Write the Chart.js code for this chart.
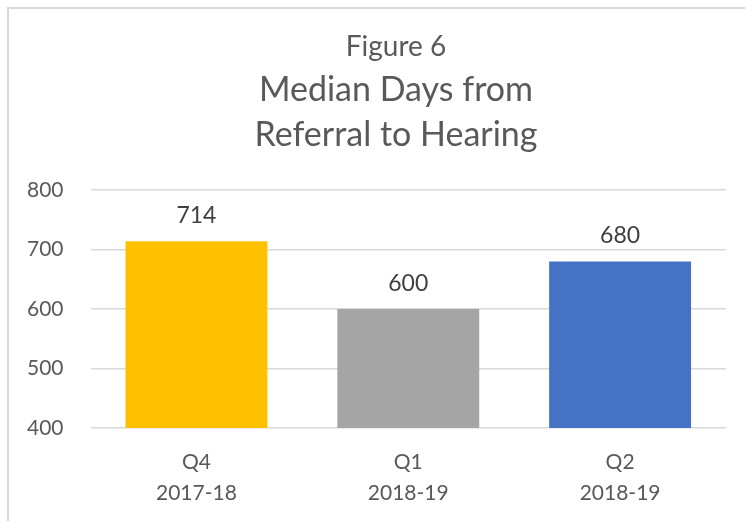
<!DOCTYPE html>
<html>
<head>
<meta charset="utf-8">
<script src="https://cdn.jsdelivr.net/npm/chart.js@4"></script>
<style>
    body { margin: 0; background: #fff; }
    #wrap { position: absolute; left: 0; top: 0; width: 745px; height: 521px; }
    #frame { position: absolute; left: 7px; top: 7px; width: 740px; height: 516px;
             border-left: 2px solid #d9d9d9; border-top: 2px solid #d9d9d9; }
    canvas { position: absolute; left: 0; top: 0; }
</style>
</head>
<body>
<div id="wrap">
    <div id="frame"></div>
    <canvas id="chart" width="745" height="521"></canvas>
</div>
<script>
const categories = [['Q4', '2017-18'], ['Q1', '2018-19'], ['Q2', '2018-19']];
const medianDays = [714, 600, 680];
const barColors = ['#FFC000', '#A5A5A5', '#4472C4'];
const yTicks = [400, 500, 600, 700, 800];
const titleLines = ['Figure 6', 'Median Days from', 'Referral to Hearing'];

// title block, centred over the whole chart frame (wider than the plot)
const titleBlock = {
    id: 'titleBlock',
    afterDraw(chart) {
        const ctx = chart.ctx;
        ctx.save();
        ctx.fillStyle = '#595959';
        ctx.textAlign = 'center';
        ctx.textBaseline = 'middle';
        ctx.font = '28px Lato';
        ctx.fillText(titleLines[0], 396, 47);
        ctx.font = '34px Lato';
        ctx.fillText(titleLines[1], 396, 90);
        ctx.fillText(titleLines[2], 396, 135);
        ctx.restore();
    }
};

// value labels above each bar
const valueLabels = {
    id: 'valueLabels',
    afterDatasetsDraw(chart) {
        const ctx = chart.ctx;
        const meta = chart.getDatasetMeta(0);
        ctx.save();
        ctx.font = '23px Lato';
        ctx.fillStyle = '#404040';
        ctx.textAlign = 'center';
        ctx.textBaseline = 'bottom';
        meta.data.forEach((bar, i) => {
            ctx.fillText(String(medianDays[i]), bar.x, bar.y - 14);
        });
        ctx.restore();
    }
};

const ctx = document.getElementById('chart').getContext('2d');
new Chart(ctx, {
    type: 'bar',
    data: {
        labels: categories,
        datasets: [{
            data: medianDays,
            backgroundColor: barColors,
            categoryPercentage: 1,
            barPercentage: 0.67
        }]
    },
    options: {
        responsive: false,
        animation: false,
        layout: { padding: { left: 0, right: 19, top: 190, bottom: 2 } },
        plugins: {
            legend: { display: false },
            tooltip: { enabled: false },
            title: { display: false }
        },
        scales: {
            x: {
                grid: { display: false },
                border: { display: false },
                ticks: {
                    color: '#595959',
                    font: { family: 'Lato', size: 21, lineHeight: 1.5 },
                    padding: 10
                }
            },
            y: {
                min: 400,
                max: 800,
                afterBuildTicks(axis) {
                    axis.ticks = yTicks.map(v => ({ value: v }));
                },
                grid: { color: '#d9d9d9', lineWidth: 1.5, drawTicks: false },
                border: { display: false },
                ticks: {
                    color: '#595959',
                    font: { family: 'Lato', size: 21 },
                    padding: 27
                }
            }
        }
    },
    plugins: [valueLabels, titleBlock]
});
</script>
</body>
</html>
